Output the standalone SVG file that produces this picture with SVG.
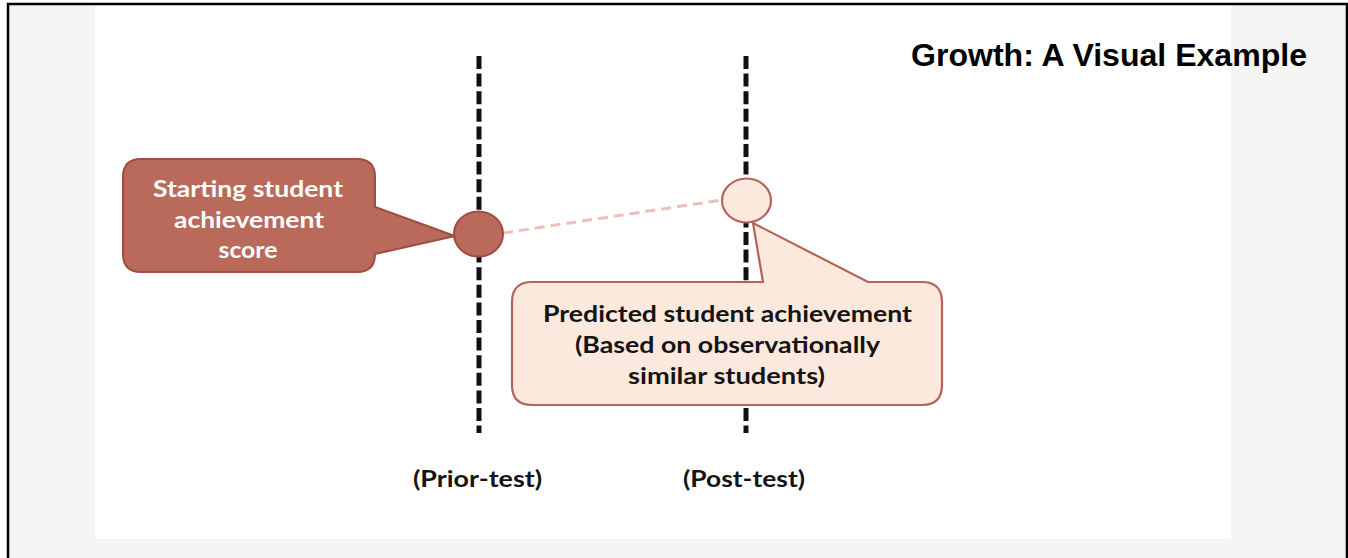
<svg xmlns="http://www.w3.org/2000/svg" width="1348" height="558" viewBox="0 0 1348 558">
  <style>
    .label { font-family: "Lato", "Open Sans", "Liberation Sans", sans-serif; font-weight: 700; font-size: 23px; text-anchor: middle; }
    .light { fill: #ffffff; }
    .dark { fill: #141414; }
    .title { font-family: "Liberation Sans", Arial, sans-serif; font-weight: 700; font-size: 31px; fill: #000000; }
    .axis { stroke: #111111; stroke-width: 5; stroke-dasharray: 13 4.6; fill: none; }
    .trend { stroke: #ebc0b9; stroke-width: 3; stroke-dasharray: 10 6; fill: none; }
    .start { fill: #b96a5a; stroke: #9f4d3f; stroke-width: 2; }
    .predicted { fill: #fbe9dd; stroke: #b4625a; stroke-width: 2.2; }
  </style>

  <!-- page backdrop and frame -->
  <rect x="0" y="0" width="1348" height="558" fill="#ffffff"/>
  <rect x="9" y="5" width="1337" height="553" fill="#f4f4f3"/>
  <rect x="95" y="5" width="1136" height="534" fill="#ffffff"/>
  <path d="M 8,558 V 4 H 1347 V 558" fill="none" stroke="#000000" stroke-width="2.5"/>

  <!-- timeline guides and the projected-growth line -->
  <g id="connectors">
    <line class="axis" x1="479" y1="56" x2="479" y2="433"/>
    <line class="axis" x1="746" y1="56" x2="746" y2="433"/>
    <line class="trend" x1="503" y1="233" x2="722" y2="200"/>
  </g>

  <!-- callout for the starting score -->
  <g id="start-callout">
    <path class="start" d="M 141,159 H 357 Q 375,159 375,177 V 207 L 455,236 L 375,254 Q 375,272 357,272 H 141 Q 123,272 123,254 V 177 Q 123,159 141,159 Z"/>
    <text class="label light" x="248" y="197" textLength="190" lengthAdjust="spacingAndGlyphs">Starting student</text>
    <text class="label light" x="249" y="228" textLength="150" lengthAdjust="spacingAndGlyphs">achievement</text>
    <text class="label light" x="248" y="258" textLength="59" lengthAdjust="spacingAndGlyphs">score</text>
  </g>

  <!-- prior-test score marker -->
  <g id="start-point">
    <ellipse class="start" cx="478.5" cy="234" rx="24.5" ry="22.5"/>
  </g>

  <!-- post-test predicted marker -->
  <g id="predicted-point">
    <ellipse class="predicted" cx="746.5" cy="200.5" rx="24.5" ry="22"/>
  </g>

  <!-- callout for the predicted score -->
  <g id="predicted-callout">
    <path class="predicted" d="M 532,282 H 763 L 753,223 L 868,282 H 922 Q 942,282 942,302 V 385 Q 942,405 922,405 H 532 Q 512,405 512,385 V 302 Q 512,282 532,282 Z"/>
    <text class="label dark" x="727.5" y="322" textLength="369" lengthAdjust="spacingAndGlyphs">Predicted student achievement</text>
    <text class="label dark" x="727.5" y="353" textLength="305" lengthAdjust="spacingAndGlyphs">(Based on observationally</text>
    <text class="label dark" x="726.5" y="384" textLength="197" lengthAdjust="spacingAndGlyphs">similar students)</text>
  </g>

  <!-- axis captions -->
  <g id="prior-label">
    <text class="label dark" x="477.5" y="487" textLength="129" lengthAdjust="spacingAndGlyphs">(Prior-test)</text>
  </g>
  <g id="post-label">
    <text class="label dark" x="744" y="487" textLength="122" lengthAdjust="spacingAndGlyphs">(Post-test)</text>
  </g>

  <!-- heading -->
  <g id="title">
    <text class="title" x="911" y="66" textLength="396" lengthAdjust="spacingAndGlyphs">Growth: A Visual Example</text>
  </g>
</svg>
